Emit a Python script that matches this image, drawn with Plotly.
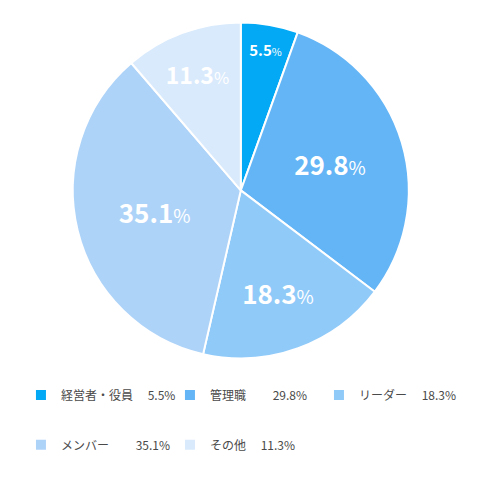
import plotly.graph_objects as go

categories = ["経営者・役員", "管理職", "リーダー", "メンバー", "その他"]
shares = [5.5, 29.8, 18.3, 35.1, 11.3]
colors = ["#03A9F4", "#64B5F6", "#90CAF9", "#AED3F8", "#D9EAFC"]
label_sizes = [15, 26, 26, 26, 23]
legend_gaps = ["\u2003 ", "\u2003\u2003 ", "\u2003 ", "\u2003\u2003 ", "\u2003 "]

legend_names = [
    f"<br>{c}{g}{v}%<br> " for c, g, v in zip(categories, legend_gaps, shares)
]

fig = go.Figure(
    go.Pie(
        labels=legend_names,
        values=shares,
        sort=False,
        direction="clockwise",
        rotation=0,
        marker=dict(colors=colors, line=dict(color="white", width=2)),
        textinfo="text",
        text=[f"<b>{v}</b><span style='font-size:72%'>%</span>" for v in shares],
        texttemplate="%{text}",
        textposition="inside",
        insidetextorientation="horizontal",
        textfont=dict(color="white", size=label_sizes, family="Noto Sans CJK JP"),
        hoverinfo="skip",
        domain=dict(x=[0.135, 0.835], y=[0.27, 0.97]),
    )
)

fig.update_layout(
    width=480,
    height=480,
    margin=dict(l=0, r=0, t=0, b=0, autoexpand=False),
    paper_bgcolor="white",
    font=dict(family="Noto Sans CJK JP", color="#4a4a4a", size=12),
    legend=dict(
        orientation="h",
        x=0.027,
        y=0.256,
        xanchor="left",
        yanchor="top",
        entrywidth=104,
        valign="middle",
        font=dict(size=12),
    ),
)

fig.write_html("out.html")
